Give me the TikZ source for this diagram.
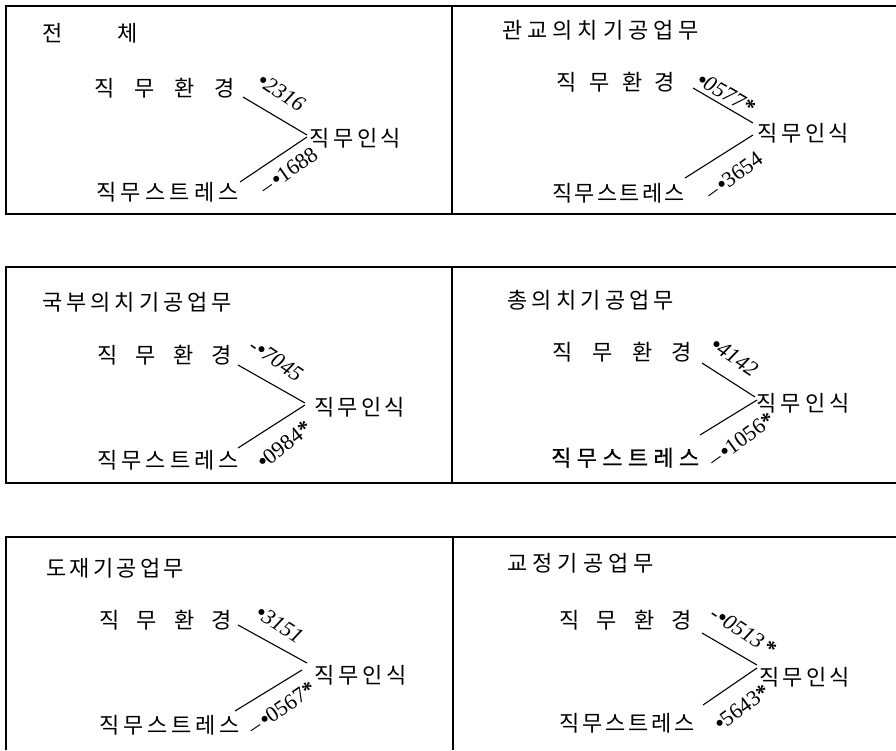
\documentclass[tikz,border=0pt]{standalone}
\usepackage{fontspec}
\newfontfamily\kfont{Noto Sans CJK KR}
\newfontfamily\kbfont[FakeBold=1.0]{Noto Sans CJK KR}
\newfontfamily\nfont{Liberation Serif}
\newcommand\spr[2]{\makebox[#1pt][s]{#2}}
\newcommand\dt{\textbf{•}\kern-0.5pt}
\tikzset{
  kor/.style={font=\kfont\fontsize{22}{22}\selectfont, inner sep=0pt, text height=16pt, text depth=0pt, anchor=west},
  korb/.style={kor, font=\kbfont\fontsize{22}{22}\selectfont},
  num/.style={font=\nfont\fontsize{22}{22}\selectfont, inner sep=0pt, text height=14.6pt, text depth=0pt, anchor=west},
  conn/.style={line width=1.1pt},
  frame/.style={line width=1.3pt},
}
\begin{document}
\begin{tikzpicture}[x=1pt,y=-1pt]
\useasboundingbox (0,0) rectangle (896,750);
% frames
\draw[frame] (896,6) -- (6,6) -- (6,214) -- (896,214);
\draw[frame] (452,6) -- (452,214);
\draw[frame] (896,267) -- (6,267) -- (6,483) -- (896,483);
\draw[frame] (452,267) -- (452,483);
\draw[frame] (896,537) -- (6,537) -- (6,750);
\draw[frame] (453,537) -- (453,750);

% ---------- Panel A ----------
\node[kor] (A-title) at (42,33) {\spr{96}{전\hfill 체}};
\node[kor] (A-env) at (94,88) {\spr{141}{직\hfill 무\hfill 환\hfill 경}};
\node[kor] (A-str) at (96,192) {\spr{143}{직\hfill 무\hfill 스\hfill 트\hfill 레\hfill 스}};
\node[kor] (A-cog) at (309,138) {\spr{92}{직\hfill 무\hfill 인\hfill 식}};
\coordinate (A-t1) at (243,97); \coordinate (A-t2) at (307,135);
\coordinate (A-b1) at (240,182); \coordinate (A-b2) at (307,137);
\draw[conn] (A-t1) -- (A-t2);
\draw[conn] (A-b1) -- (A-b2);
\node[num, rotate=-33] (A-n1) at (260,78.5) {\dt\textit{2316}};
\node[num, rotate=35] (A-n2) at (273,181.5) {\llap{–\kern3pt}\dt 1688};

% ---------- Panel B ----------
\node[kor] (B-title) at (502,30) {\spr{197}{관\hfill 교\hfill 의\hfill 치\hfill 기\hfill 공\hfill 업\hfill 무}};
\node[kor] (B-env) at (556,82) {\spr{119}{직\hfill 무\hfill 환\hfill 경}};
\node[kor] (B-str) at (552,193) {\spr{133}{직\hfill 무\hfill 스\hfill 트\hfill 레\hfill 스}};
\node[kor] (B-cog) at (757,133) {\spr{92}{직\hfill 무\hfill 인\hfill 식}};
\coordinate (B-t1) at (693,88); \coordinate (B-t2) at (753,123);
\coordinate (B-b1) at (685,178); \coordinate (B-b2) at (753,135);
\draw[conn] (B-t1) -- (B-t2);
\draw[conn] (B-b1) -- (B-b2);
\node[num, rotate=-30] (B-n1) at (699,77.7) {\dt\textit{0577}\textbf{*}};
\node[num, rotate=36] (B-n2) at (718.4,186.6) {\llap{–\kern3pt}\dt 3654};

% ---------- Panel C ----------
\node[kor] (C-title) at (42,302) {\spr{190}{국\hfill 부\hfill 의\hfill 치\hfill 기\hfill 공\hfill 업\hfill 무}};
\node[kor] (C-env) at (97,355) {\spr{135}{직\hfill 무\hfill 환\hfill 경}};
\node[kor] (C-str) at (97,460) {\spr{142}{직\hfill 무\hfill 스\hfill 트\hfill 레\hfill 스}};
\node[kor] (C-cog) at (314,407) {\spr{91}{직\hfill 무\hfill 인\hfill 식}};
\coordinate (C-t1) at (238,365); \coordinate (C-t2) at (305,403);
\coordinate (C-b1) at (238,448); \coordinate (C-b2) at (305,405);
\draw[conn] (C-t1) -- (C-t2);
\draw[conn] (C-b1) -- (C-b2);
\node[num, rotate=-34] (C-n1) at (258.3,347.5) {\llap{-\kern1pt}\dt\textit{7045}};
\node[num, rotate=38] (C-n2) at (259.5,463.8) {\dt 0984\textbf{*}};

% ---------- Panel D ----------
\node[kor] (D-title) at (507,300) {\spr{167}{총\hfill 의\hfill 치\hfill 기\hfill 공\hfill 업\hfill 무}};
\node[kor] (D-env) at (552,352) {\spr{140}{직\hfill 무\hfill 환\hfill 경}};
\node[korb] (D-str) at (551,458) {\spr{148}{직\hfill 무\hfill 스\hfill 트\hfill 레\hfill 스}};
\node[kor] (D-cog) at (756,403) {\spr{94}{직\hfill 무\hfill 인\hfill 식}};
\coordinate (D-t1) at (702,363); \coordinate (D-t2) at (755,397);
\coordinate (D-b1) at (700,435); \coordinate (D-b2) at (757,400);
\draw[conn] (D-t1) -- (D-t2);
\draw[conn] (D-b1) -- (D-b2);
\node[num, rotate=-34] (D-n1) at (713.3,342.5) {\dt\textit{4142}};
\node[num, rotate=36] (D-n2) at (721.4,453.6) {\llap{–\kern3pt}\dt 1056\textbf{*}};

% ---------- Panel E ----------
\node[kor] (E-title) at (46,568) {\spr{138}{도\hfill 재\hfill 기\hfill 공\hfill 업\hfill 무}};
\node[kor] (E-env) at (99,620) {\spr{133}{직\hfill 무\hfill 환\hfill 경}};
\node[kor] (E-str) at (99,725) {\spr{141}{직\hfill 무\hfill 스\hfill 트\hfill 레\hfill 스}};
\node[kor] (E-cog) at (314,675) {\spr{93}{직\hfill 무\hfill 인\hfill 식}};
\coordinate (E-t1) at (238,625); \coordinate (E-t2) at (307,663);
\coordinate (E-b1) at (235,711); \coordinate (E-b2) at (302,670);
\draw[conn] (E-t1) -- (E-t2);
\draw[conn] (E-b1) -- (E-b2);
\node[num, rotate=-33] (E-n1) at (258.2,610.5) {\dt\textit{3151}};
\node[num, rotate=34] (E-n2) at (261.3,721.5) {\llap{–\kern3pt}\dt 0567\textbf{*}};

% ---------- Panel F ----------
\node[kor] (F-title) at (507,563) {\spr{147}{교\hfill 정\hfill 기\hfill 공\hfill 업\hfill 무}};
\node[kor] (F-env) at (559,620) {\spr{133}{직\hfill 무\hfill 환\hfill 경}};
\node[kor] (F-str) at (559,723) {\spr{136}{직\hfill 무\hfill 스\hfill 트\hfill 레\hfill 스}};
\node[kor] (F-cog) at (759,677) {\spr{91}{직\hfill 무\hfill 인\hfill 식}};
\coordinate (F-t1) at (702,633); \coordinate (F-t2) at (757,665);
\coordinate (F-b1) at (703,705); \coordinate (F-b2) at (757,668);
\draw[conn] (F-t1) -- (F-t2);
\draw[conn] (F-b1) -- (F-b2);
\node[num, rotate=-33] (F-n1) at (719.2,615.5) {\llap{-\kern1pt}\dt\textit{0513}\,\textbf{*}};
\node[num, rotate=36] (F-n2) at (716.4,725.6) {\dt 5643\textbf{*}};
\end{tikzpicture}
\end{document}
